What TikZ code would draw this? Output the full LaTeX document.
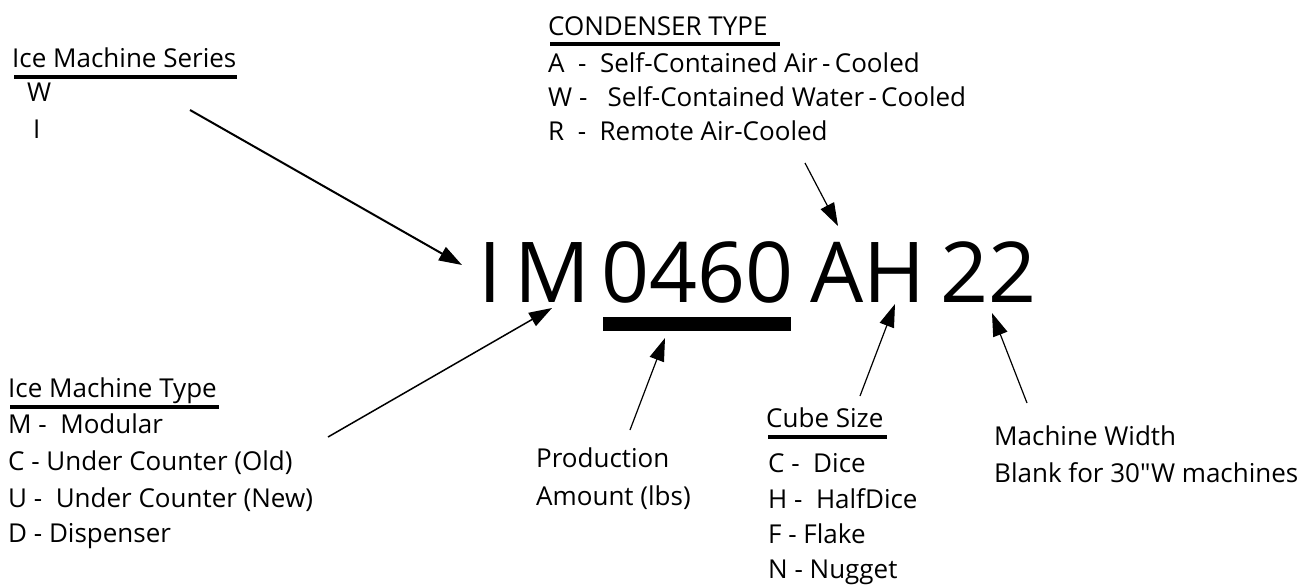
\documentclass[tikz,border=0pt]{standalone}
\usepackage{fontspec}
\setmainfont{Open Sans}[Ligatures=TeXOff]
\usetikzlibrary{arrows.meta}
\begin{document}
\begin{tikzpicture}[x=1pt,y=-1pt,
  lbl/.style={anchor=base west,inner sep=0pt,font=\fontsize{26}{30}\selectfont},
  big/.style={anchor=base west,inner sep=0pt,font=\fontsize{84}{90}\selectfont},
  uline/.style={line width=4pt},
  arr/.style={line width=1.2pt,-{Triangle[length=23pt,width=15pt]}}]
\useasboundingbox (0,0) rectangle (1304,587);
% series
\node[lbl] (ser) at (12,67) {Ice Machine Series};
\draw[uline] (14,77) -- (237,77);
\node[lbl] (serw) at (27,101) {W};
\node[lbl] (seri) at (33,138) {I};
% condenser
\node[lbl] (cond) at (548,35) {CONDENSER TYPE};
\draw[uline] (550,44) -- (780,44);
\node[lbl] (conda) at (548,72) {A\ \ -\ \ Self-Contained Air\,-\,Cooled};
\node[lbl] (condw) at (548,106) {W\ -\ \ \ Self-Contained Water\,-\,Cooled};
\node[lbl] (condr) at (548,140) {R\ \ -\ \ Remote Air-Cooled};
% big model number
\node[big] (bI) at (478,302) {I};
\node[big] (bM) at (514,302) {M};
\node[big] (b0460) at (601,302) {0460};
\node[big] (bAH) at (810,302) {AH};
\node[big] (b22) at (940,302) {22};
\fill (603,317) rectangle (791,331);
% type
\node[lbl] (typ) at (8,397) {Ice Machine Type};
\draw[uline] (10,407) -- (219,407);
\node[lbl] (typm) at (8,433) {M -\ \ Modular};
\node[lbl] (typc) at (8,470) {C - Under Counter (Old)};
\node[lbl] (typu) at (8,507) {U -\ \ Under Counter (New)};
\node[lbl] (typd) at (8,542) {D - Dispenser};
% production
\node[lbl] (prod) at (536,467) {Production};
\node[lbl] (amt) at (536,505) {Amount (lbs)};
% cube size
\node[lbl] (cube) at (766,427) {Cube Size};
\draw[uline] (768,437) -- (887,437);
\node[lbl] (cubec) at (768,472) {C -\ \ Dice};
\node[lbl] (cubeh) at (768,508) {H -\ \ HalfDice};
\node[lbl] (cubef) at (768,543) {F - Flake};
\node[lbl] (cuben) at (768,578) {N - Nugget};
% width
\node[lbl] (mw) at (994,445) {Machine Width};
\node[lbl] (mwb) at (994,482) {Blank for 30"W machines};
% arrow coordinates
\coordinate (s1) at (190,110); \coordinate (t1) at (462,265);
\coordinate (s2) at (805,163); \coordinate (t2) at (838,226);
\coordinate (s3) at (328,437); \coordinate (t3) at (552,308);
\coordinate (s4) at (630,430); \coordinate (t4) at (665,338);
\coordinate (s5) at (860,396); \coordinate (t5) at (895,304);
\coordinate (s6) at (1027,403); \coordinate (t6) at (992,313);
\draw[arr,line width=2pt] (s1) -- (t1);
\draw[arr] (s2) -- (t2);
\draw[arr,line width=1.5pt] (s3) -- (t3);
\draw[arr] (s4) -- (t4);
\draw[arr] (s5) -- (t5);
\draw[arr] (s6) -- (t6);
\end{tikzpicture}
\end{document}
